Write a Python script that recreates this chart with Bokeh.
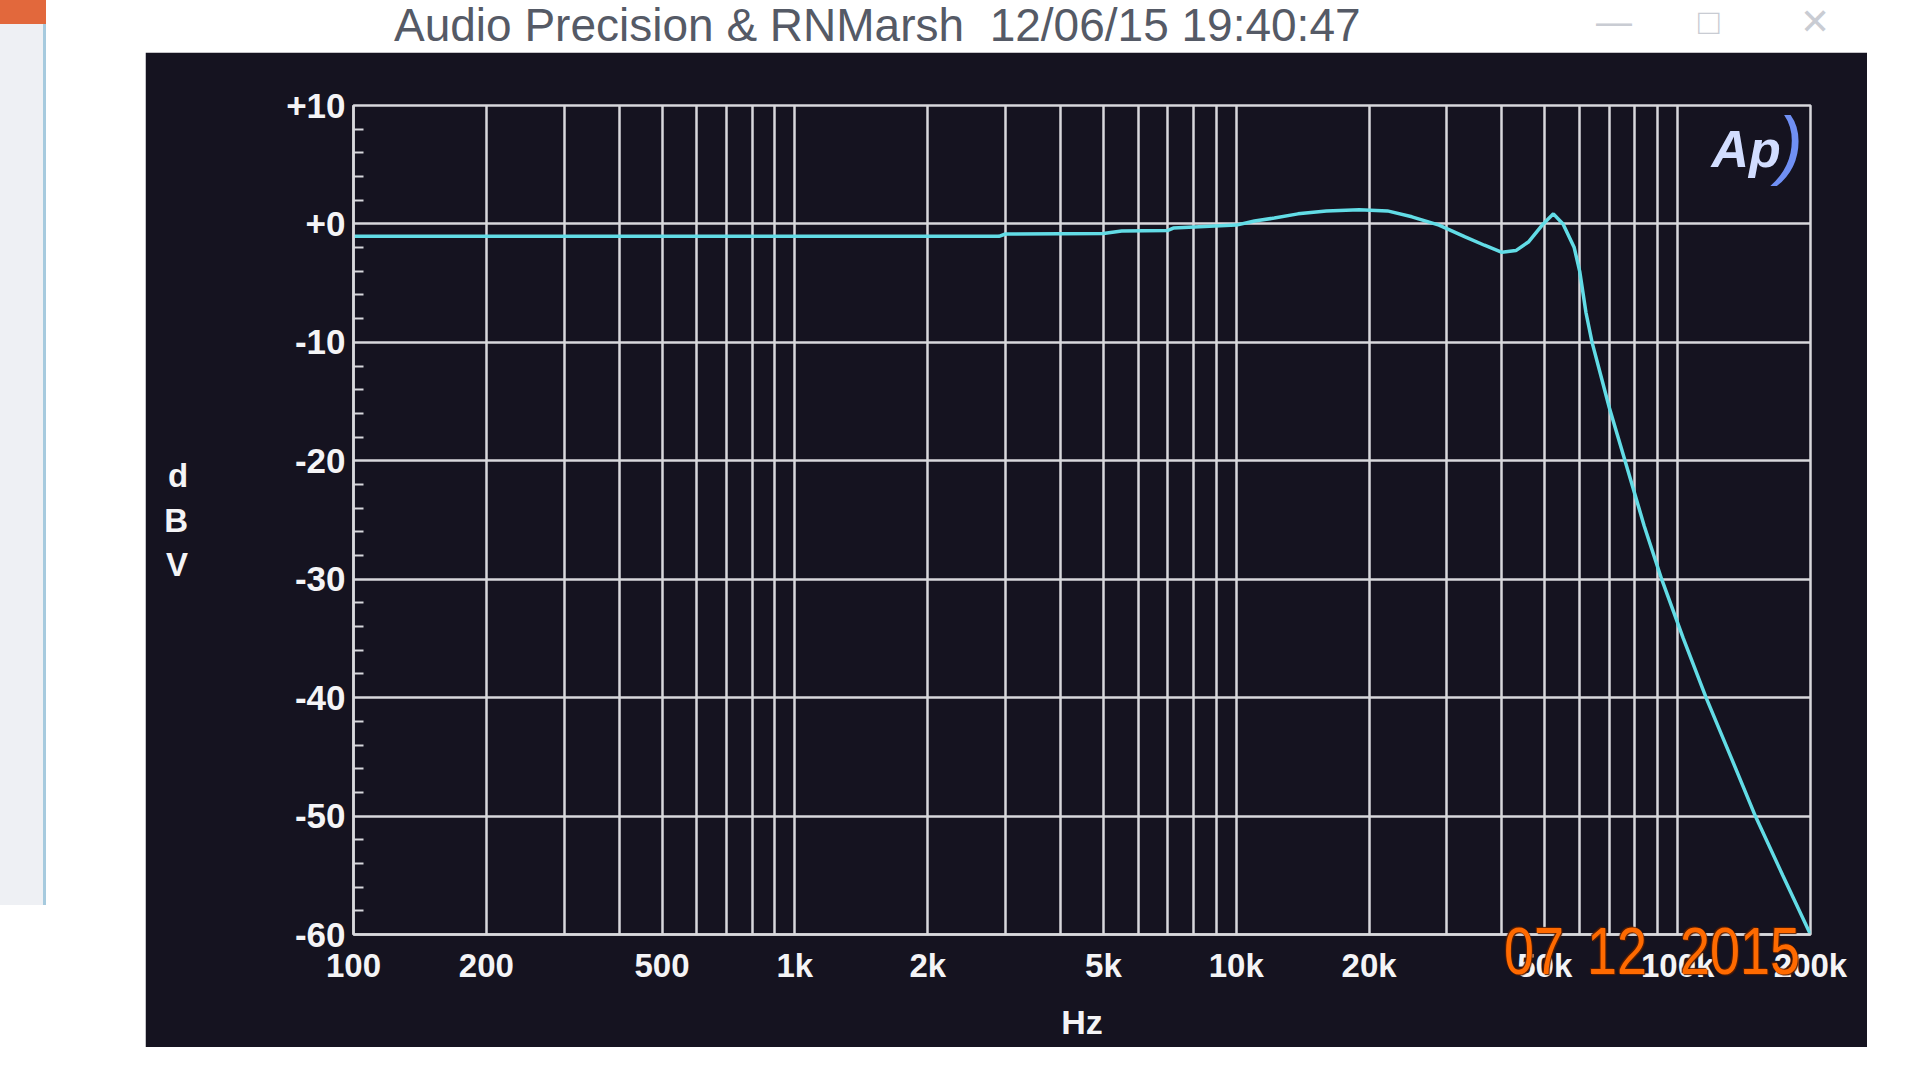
from bokeh.plotting import figure
from bokeh.models import FixedTicker, Label, Div, Range1d
from bokeh.layouts import column
from bokeh.embed import file_html
from bokeh.resources import INLINE

# ---------------- data ----------------
freq_hz = [100, 200, 500, 1000, 2000, 2900, 3000, 5000, 5500, 7000, 7200, 8700,
           10000, 11000, 12200, 13800, 16000, 19000, 22000, 25000, 28800, 33000,
           36500, 40000, 43000, 46000, 49600, 52300, 55000, 58300, 60000, 62000,
           64000, 70000, 76000, 84000, 92000, 103000, 116000, 132000, 150000,
           173000, 200000]
level_dbv = [-1.05, -1.05, -1.05, -1.05, -1.05, -1.05, -0.85, -0.8, -0.6, -0.55, -0.35, -0.2,
             -0.1, 0.25, 0.5, 0.85, 1.1, 1.2, 1.1, 0.6, -0.1, -1.1,
             -1.8, -2.4, -2.25, -1.5, 0.0, 0.85, 0.0, -2.0, -4.0, -7.5,
             -10.0, -15.5, -20.0, -25.5, -30.0, -35.0, -40.0, -45.0, -50.0,
             -55.0, -60.0]

x_grid_hz = [100, 200, 300, 400, 500, 600, 700, 800, 900,
             1000, 2000, 3000, 4000, 5000, 6000, 7000, 8000, 9000,
             10000, 20000, 30000, 40000, 50000, 60000, 70000, 80000, 90000,
             100000, 200000]
x_label_hz = [100, 200, 500, 1000, 2000, 5000, 10000, 20000, 50000, 100000, 200000]
x_label_txt = ["100", "200", "500", "1k", "2k", "5k", "10k", "20k", "50k", "100k", "200k"]
y_major = [10, 0, -10, -20, -30, -40, -50, -60]
y_label_txt = ["+10", "+0", "-10", "-20", "-30", "-40", "-50", "-60"]
y_minor = [v for v in range(-60, 11, 2) if v % 10 != 0]

title_txt = "Audio Precision & RNMarsh  12/06/15 19:40:47"
stamp_parts = ["07", "12", "2015"]

# ---------------- styles ----------------
DARK = "#151320"
GRID = "#d8d8dc"
CYAN = "#62dce6"
WHITE = "#f4f4f6"
FONT = "Liberation Sans"

p = figure(width=1722, height=995, x_axis_type="log",
           x_range=Range1d(100, 200000), y_range=Range1d(-60, 10),
           output_backend="svg", toolbar_location=None,
           min_border_left=208, min_border_right=57,
           min_border_top=53, min_border_bottom=113,
           background_fill_color=DARK, border_fill_color=DARK,
           outline_line_color=GRID, outline_line_width=2.5,
           margin=(0, 0, 0, 145))

p.line(freq_hz, level_dbv, line_color=CYAN, line_width=3.5)

# x axis
p.xaxis.ticker = FixedTicker(ticks=x_grid_hz)
ovr = {f: "" for f in x_grid_hz}
for f, t in zip(x_label_hz, x_label_txt):
    ovr[f] = t
p.xaxis.major_label_overrides = ovr
p.xaxis.minor_tick_line_color = None
p.xaxis.major_label_standoff = 6
p.xaxis.major_label_text_font_size = "33px"
p.xaxis.axis_label = "Hz"
p.xaxis.axis_label_standoff = 16
p.xaxis.axis_label_text_font_size = "34px"

# y axis
p.yaxis.ticker = FixedTicker(ticks=y_major, minor_ticks=y_minor)
p.yaxis.major_label_overrides = dict(zip(y_major, y_label_txt))
p.yaxis.minor_tick_line_color = GRID
p.yaxis.minor_tick_in = 10
p.yaxis.minor_tick_out = 0
p.yaxis.minor_tick_line_width = 2
p.yaxis.major_label_standoff = 2
p.yaxis.major_label_text_font_size = "35px"
p.yaxis.axis_label = "d\nB\nV"
p.yaxis.axis_label_orientation = "horizontal"
p.yaxis.axis_label_standoff = 95
p.yaxis.axis_label_text_font_size = "33px"

for ax in (p.xaxis, p.yaxis):
    ax.axis_line_color = GRID
    ax.axis_line_width = 2.5
    ax.major_tick_line_color = None
    ax.major_label_text_color = WHITE
    ax.major_label_text_font = FONT
    ax.major_label_text_font_style = "bold"
    ax.axis_label_text_color = WHITE
    ax.axis_label_text_font = FONT
    ax.axis_label_text_font_style = "bold"

p.grid.grid_line_color = GRID
p.grid.grid_line_width = 2.5

# AP logo
p.add_layout(Label(x=143000, y=6.3, text="Ap", text_align="center", text_baseline="middle",
                   text_color="#d2ddff", text_font=FONT, text_font_style="bold italic",
                   text_font_size="52px"))
p.add_layout(Label(x=180000, y=6.8, text=")", text_align="center", text_baseline="middle",
                   text_color="#7090f4", text_font=FONT, text_font_style="italic",
                   text_font_size="76px"))

# page decorations, window title and the camera date imprint
stamp_left = [1504, 1587, 1680]
stamp = "".join(
    '<span style="position:absolute;z-index:50;left:%dpx;top:922px;font-size:58px;line-height:58px;'
    'color:#ff6a00;font-family:\'Liberation Sans\';transform:scale(0.93,1.15);transform-origin:left center;'
    'text-shadow:1px 1px 1px #5a1e00,-1px -1px 1px #5a1e00;">%s</span>' % (l, t)
    for l, t in zip(stamp_left, stamp_parts))
icons = ('<span style="position:absolute;left:1596px;top:-4px;font-size:36px;color:#c9ccd3;">&#8212;</span>'
         '<span style="position:absolute;left:1698px;top:-4px;font-size:36px;color:#c9ccd3;">&#9633;</span>'
         '<span style="position:absolute;left:1800px;top:-4px;font-size:36px;color:#c9ccd3;">&#10005;</span>')
strip = ('<div style="position:absolute;left:0px;top:0px;width:46px;height:905px;background:#eef0f4;'
         'border-right:3px solid #a6cade;"></div>'
         '<div style="position:absolute;left:0px;top:0px;width:46px;height:24px;background:#e2683c;"></div>')
head = Div(text=('<div style="position:relative;width:1904px;height:52px;font-family:\'Liberation Sans\';">'
                 + strip +
                 '<span style="position:absolute;left:394px;top:0px;font-size:46px;line-height:50px;'
                 'color:#555a66;white-space:pre;">' + title_txt.replace("&", "&amp;") + '</span>'
                 + icons + stamp + '</div>'),
           width=1904, height=52, margin=(0, 0, 0, 0))

layout = column(head, p, spacing=0)
open("out.html", "w").write(file_html(layout, INLINE))
